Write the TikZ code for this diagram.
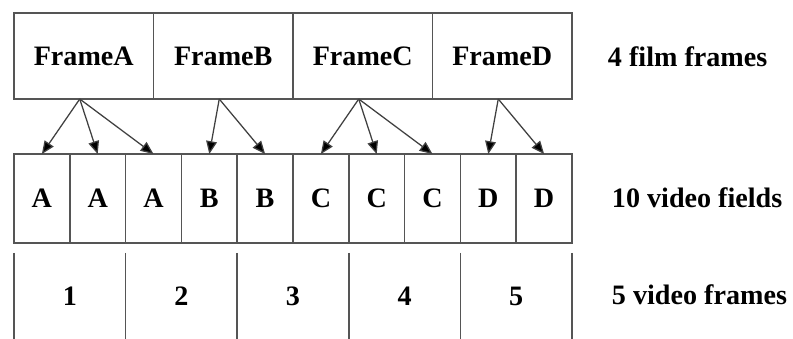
\documentclass[tikz,border=0pt]{standalone}
\usepackage{fontspec}
\setmainfont{Liberation Serif}
\usepackage{xcolor}
\definecolor{rulegray}{RGB}{85,85,85}
\usetikzlibrary{arrows.meta, positioning}

\begin{document}
\begin{tikzpicture}[x=0.025cm, y=-0.025cm,
    txt/.style={font=\bfseries\fontsize{20}{24}\selectfont},
    film/.style={txt, draw=rulegray, line width=1.1pt, inner sep=0pt, outer sep=0pt,
                 minimum width=3.4875cm, minimum height=2.15cm},
    field/.style={txt, draw=rulegray, line width=1.1pt, inner sep=0pt, outer sep=0pt,
                  minimum width=1.395cm, minimum height=2.225cm},
    vframe/.style={txt, inner sep=0pt, outer sep=0pt,
                   minimum width=2.79cm, minimum height=2.15cm},
    link/.style={-{Triangle[length=0.32cm, width=0.27cm, fill=black]}, line width=0.9pt, draw=black!75},
    rule/.style={line width=1.1pt, draw=rulegray}]
  \useasboundingbox (0,0) rectangle (793,339);

  % Top row -- film frames
  \foreach \l [count=\i from 0] in {A,B,C,D}
    \node[film] (f\l) at ({14+139.5*(\i+0.5)},56) {Frame\l};
  \node[txt, anchor=west] (filmlbl) at (603,57) {4 film frames};

  % Middle row -- video fields
  \foreach \l [count=\i] in {A,A,A,B,B,C,C,C,D,D}
    \node[field] (field\i) at ({14+55.8*(\i-0.5)},198.5) {\l};
  \node[txt, anchor=west] (fieldlbl) at (607,198) {10 video fields};

  % Pulldown arrows
  \foreach \s/\t in {fA/1, fA/2, fA/3, fB/4, fB/5, fC/6, fC/7, fC/8, fD/9, fD/10}
    \draw[link] ([xshift=-0.1cm]\s.south) -- (field\t.north);

  % Bottom row -- video frames
  \foreach \n in {1,...,5}
    \node[vframe] (frame\n) at ({14+111.6*(\n-0.5)},296) {\n};
  \foreach \n in {1,...,5}
    \draw[rule] (frame\n.north west) -- (frame\n.south west);
  \draw[rule] (frame5.north east) -- (frame5.south east);
  \node[txt, anchor=west] (framelbl) at (607,295) {5 video frames};
\end{tikzpicture}
\end{document}
